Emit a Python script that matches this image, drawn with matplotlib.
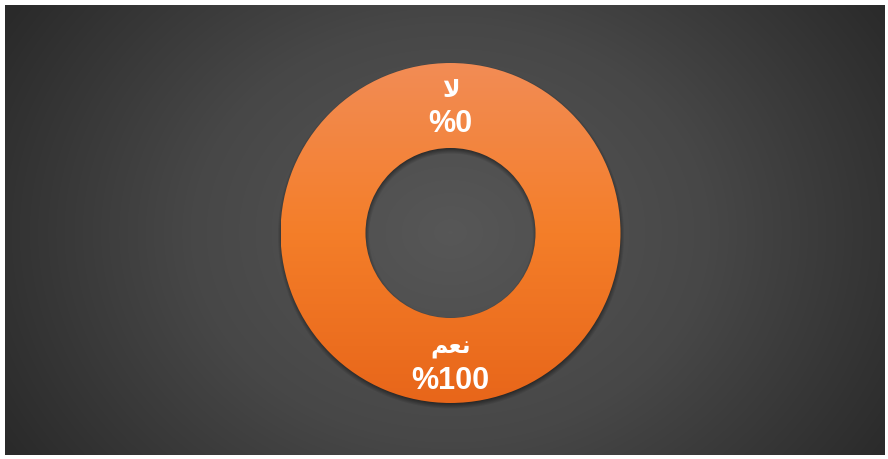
import matplotlib.pyplot as plt
import numpy as np
from matplotlib.colors import LinearSegmentedColormap

# answers and their share (%)
labels = ['\uFEFB', '\uFEE2\uFECC\uFEE7']   # لا , نعم (presentation forms so the letters join)
values = [0, 100]
pct_text = ['%0', '%100']

W, H = 888, 459
fig = plt.figure(figsize=(W / 100, H / 100), dpi=100, facecolor='white')

# dark radial background
bg = fig.add_axes([5 / W, 4 / H, 880 / W, 450 / H])
bg.set_axis_off()
yy, xx = np.mgrid[0:450, 0:880]
cx, cy = 445, 227
d = np.sqrt(((xx - cx) / 520.0) ** 2 + ((yy - cy) / 420.0) ** 2)
d = np.clip(d, 0, 1)
bg_cmap = LinearSegmentedColormap.from_list('bg', ['#575757', '#474747', '#2a2a2a'])
bg.imshow(d, cmap=bg_cmap, vmin=0, vmax=1, extent=[0, 880, 450, 0], aspect='auto')

# soft shadow of the ring
R_out, R_in = 170.0, 85.0
scx, scy = cx + 0.5, cy + 3.0
r = np.sqrt((xx - scx) ** 2 + (yy - scy) ** 2)
sd = np.maximum(r - R_out, R_in - r)
alpha = 0.55 * np.clip(0.5 - sd / 7.0, 0, 1)
shadow = np.zeros((450, 880, 4))
shadow[..., 3] = alpha
bg.imshow(shadow, extent=[0, 880, 450, 0], aspect='auto')
bg.set_xlim(0, 880)
bg.set_ylim(450, 0)

# donut
side = 360
ax = fig.add_axes([(450.5 - side / 2) / W, (H - 233 - side / 2) / H, side / W, side / H])

wedges, _ = ax.pie(values, startangle=90, counterclock=False, radius=1.0,
                   wedgeprops=dict(width=0.5, linewidth=0))

ring_cmap = LinearSegmentedColormap.from_list('ring', ['#e8661a', '#f47e29', '#f28c55'])
grad = np.linspace(0, 1, 256).reshape(-1, 1)
for w in wedges:
    w.set_facecolor('none')
    if w.theta2 - w.theta1 <= 0:
        continue
    im = ax.imshow(grad, cmap=ring_cmap, extent=[-1, 1, -1, 1], origin='lower',
                   aspect='auto', zorder=2)
    im.set_clip_path(w)

# labels at the middle of each wedge, half-way across the ring
total = sum(values)
start = 90.0
fonts = ['Liberation Sans', 'DejaVu Sans']
for lab, v, pt in zip(labels, values, pct_text):
    span = 360.0 * v / total
    mid = np.radians(start - span / 2)
    start -= span
    rx, ry = 0.755 * np.cos(mid), 0.755 * np.sin(mid) - 0.016
    ax.text(rx, ry + 0.1, lab, ha='center', va='center', color='white',
            fontsize=17, fontweight='bold', family=fonts, zorder=5)
    ax.text(rx, ry - 0.1, pt, ha='center', va='center', color='white',
            fontsize=22, fontweight='bold', family=fonts, zorder=5)

ax.set_axis_off()
lim = (side / 2) / R_out
ax.set_xlim(-lim, lim)
ax.set_ylim(-lim, lim)
ax.set_aspect('equal')

fig.savefig('out.png', dpi=100, facecolor='white')
